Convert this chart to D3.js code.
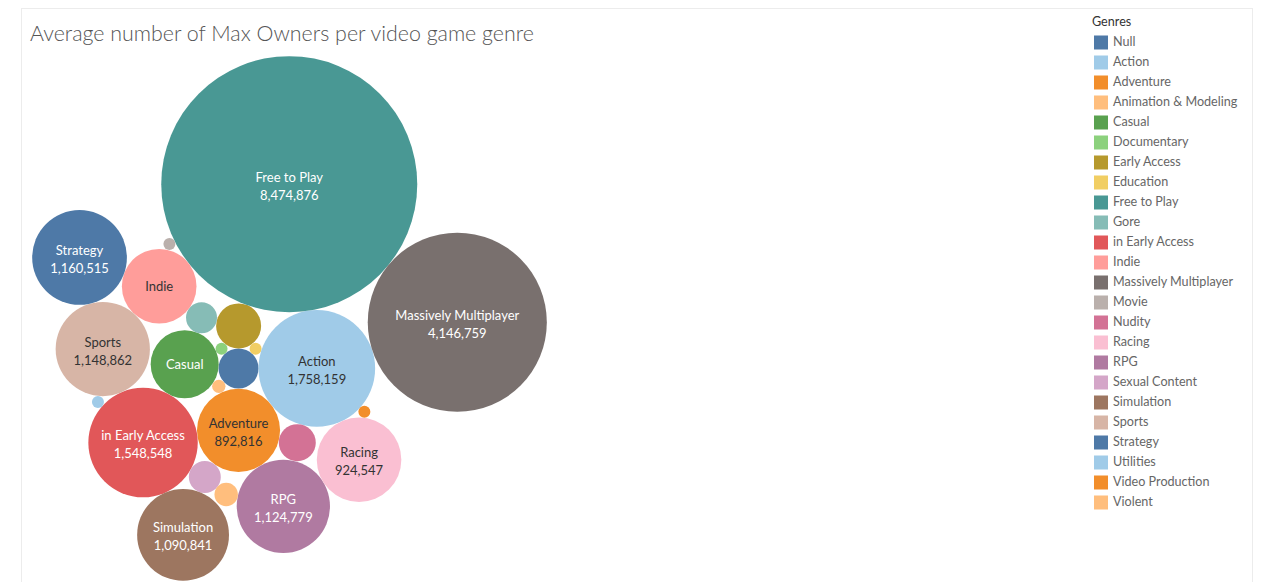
<!DOCTYPE html>
<html><head><meta charset="utf-8">
<script src="https://cdn.jsdelivr.net/npm/d3@7"></script>
<style>body{margin:0;background:#fff;}svg{display:block;}</style>
</head><body>
<svg id="chart" width="1270" height="582"></svg>
<script>
// ---- data (alphabetical, as in the legend) ----
const genres = ["Null","Action","Adventure","Animation & Modeling","Casual","Documentary","Early Access","Education","Free to Play","Gore","in Early Access","Indie","Massively Multiplayer","Movie","Nudity","Racing","RPG","Sexual Content","Simulation","Sports","Strategy","Utilities","Video Production","Violent"];
const maxOwners = [207000,1758159,892816,23000,598000,18600,262000,18600,8474876,124000,1548548,720000,4146759,18600,177000,924547,1124779,132000,1090841,1148862,1160515,18600,18600,71000];
const colors = ["#4e79a7","#a0cbe8","#f28e2b","#ffbe7d","#59a14f","#8cd17d","#b6992d","#f1ce63","#499894","#86bcb6","#e15759","#ff9d9a","#79706e","#bab0ac","#d37295","#fabfd2","#b07aa1","#d4a6c8","#9d7660","#d7b5a6","#4e79a7","#a0cbe8","#f28e2b","#ffbe7d"];
// order in which the bubbles are handed to the packing layout
const packOrder = ["Null","Documentary","Early Access","Casual","Education","Animation & Modeling","Action","Adventure","Gore","Free to Play","in Early Access","Indie","Sports","Nudity","Sexual Content","RPG","Massively Multiplayer","Racing","Violent","Movie","Strategy","Simulation","Utilities","Video Production"];
const titleText = "Average number of Max Owners per video game genre";
const legendTitle = "Genres";

const svg = d3.select("#chart");
const FONT = "Lato, 'Open Sans', sans-serif";

svg.append("rect").attr("x",21.5).attr("y",8.5).attr("width",1231).attr("height",620)
  .attr("fill","none").attr("stroke","#ececec");

svg.append("text").attr("x",30).attr("y",41).text(titleText)
  .attr("font-family",FONT).attr("font-weight",300)
  .attr("font-size",21.4).attr("fill","#555");

const rScale = d3.scaleSqrt().domain([0, d3.max(maxOwners)]).range([0, 128]);
const color = d3.scaleOrdinal().domain(genres).range(colors);
const valueOf = new Map(genres.map((g,i)=>[g,maxOwners[i]]));

const nodes = packOrder.map(name=>({name, value:valueOf.get(name), r:rScale(valueOf.get(name))}));
d3.packSiblings(nodes);

// orient the packed layout: Null -> Action horizontal, then centre the cluster
const nA = nodes.find(d=>d.name==="Null"), nB = nodes.find(d=>d.name==="Action");
const rot = 0 - Math.atan2(nB.y-nA.y, nB.x-nA.x);
nodes.forEach(d=>{const x=d.x*Math.cos(rot)-d.y*Math.sin(rot), y=d.x*Math.sin(rot)+d.y*Math.cos(rot); d.x=x; d.y=y;});
const bx0=d3.min(nodes,d=>d.x-d.r), bx1=d3.max(nodes,d=>d.x+d.r), by0=d3.min(nodes,d=>d.y-d.r), by1=d3.max(nodes,d=>d.y+d.r);
const offX = 289.5-(bx0+bx1)/2, offY = 318.5-(by0+by1)/2;

const g = svg.append("g").attr("transform",`translate(${offX},${offY})`);
const fmt = d3.format(",");
const lum = c => {const o=d3.rgb(c); return (0.2126*o.r+0.7152*o.g+0.0722*o.b)/255;};

const bub = g.selectAll("g.b").data(nodes).join("g").attr("class","b")
  .attr("transform",d=>`translate(${d.x},${d.y})`);
bub.append("circle").attr("r",d=>d.r).attr("fill",d=>color(d.name));
const lab = bub.filter(d=>d.r>=30).append("text")
  .attr("text-anchor","middle").attr("font-family",FONT).attr("font-size",13)
  .attr("fill",d=>lum(color(d.name))<0.58?"#ffffff":"#333333");
lab.append("tspan").attr("x",0).attr("y",d=>d.r>=40?-2.5:4.5).text(d=>d.name);
lab.filter(d=>d.r>=40).append("tspan").attr("x",0).attr("y",15.5).text(d=>fmt(d.value));

// legend
const lg = svg.append("g").attr("transform","translate(1092,0)");
lg.append("text").attr("x",0).attr("y",26).text(legendTitle)
  .attr("font-family",FONT).attr("font-size",12.6).attr("fill","#333");
const li = lg.selectAll("g.li").data(genres).join("g").attr("class","li")
  .attr("transform",(d,i)=>`translate(0,${35+i*20})`);
li.append("rect").attr("x",2).attr("y",0.5).attr("width",14).attr("height",14).attr("fill",d=>color(d));
li.append("text").attr("x",21).attr("y",11).text(d=>d)
  .attr("font-family",FONT).attr("font-size",12.6).attr("fill","#666");
</script>
</body></html>
